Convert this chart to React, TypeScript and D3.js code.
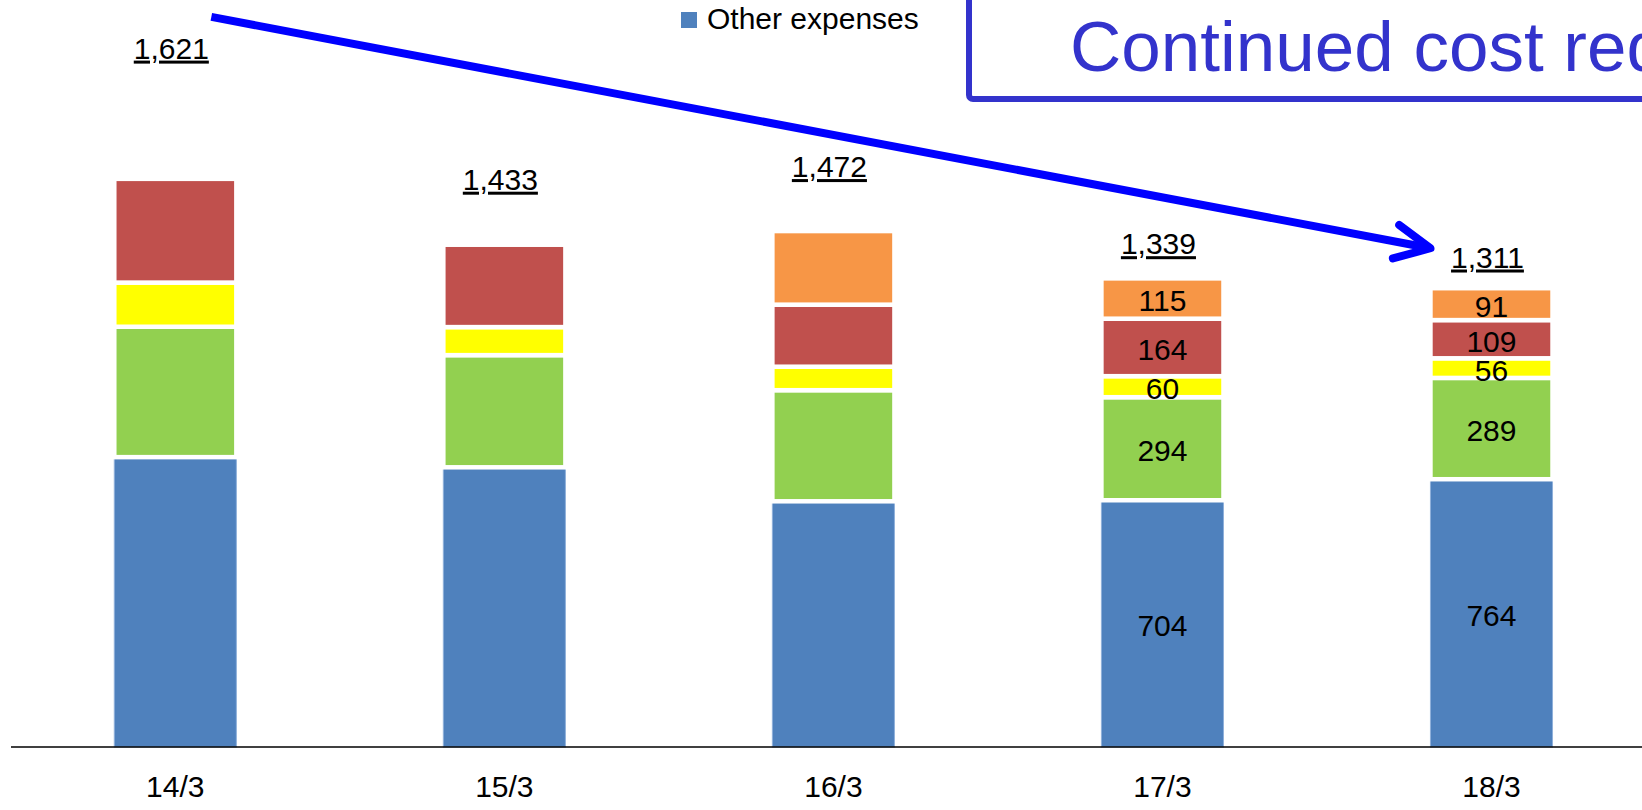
import React from "react";
import * as d3 from "d3";

const categories = ["14/3", "15/3", "16/3", "17/3", "18/3"];
const seriesNames = ["Other expenses", "Series 2", "Series 3", "Series 4", "Series 5"];
const otherExpenses = [827, 798, 701, 704, 764];
const greenSeries = [372, 320, 317, 294, 289];
const yellowSeries = [126, 80, 67, 60, 56];
const redSeries = [296, 235, 177, 164, 109];
const orangeSeries = [0, 0, 210, 115, 91];
const totals = ["1,621", "1,433", "1,472", "1,339", "1,311"];
// vertical level (in chart units) at which each total label sits
const totalLabelLevels = [1964, 1590, 1626, 1406, 1368];
// which categories show segment value labels
const showSegmentLabels = [false, false, false, true, true];
const titleText = "Continued cost reduction";
const arrowFrom = { cat: "14/3", value: 2083 };
const arrowTo = { cat: "18/3", value: 1423 };

const colors = ["#4F81BD", "#92D050", "#FFFF00", "#C0504D", "#F79646"];
const FONT = "'Liberation Sans', Arial, sans-serif";

export default function App() {
  const W = 1642;
  const H = 810;
  const baseY = 747;

  const x = d3
    .scaleBand<string>()
    .domain(categories)
    .range([10.8, 1656])
    .paddingInner(0.629)
    .paddingOuter(0.3145);
  const y = d3.scaleLinear().domain([0, 2000]).range([baseY, 46]);
  const bw = x.bandwidth();

  const seriesValues = [otherExpenses, greenSeries, yellowSeries, redSeries, orangeSeries];
  const rows = categories.map((c, i) => {
    const r: any = { cat: c };
    seriesNames.forEach((s, j) => (r[s] = seriesValues[j][i]));
    return r;
  });
  const stacked = d3.stack<any>().keys(seriesNames)(rows);

  const ax0 = (x(arrowFrom.cat) as number) + bw / 2 + 36;
  const ay0 = y(arrowFrom.value);
  const ax1 = x(arrowTo.cat) as number;
  const ay1 = y(arrowTo.value);
  const dx = ax1 - ax0;
  const dy = ay1 - ay0;
  const len = Math.sqrt(dx * dx + dy * dy);
  const ux = dx / len;
  const uy = dy / len;
  const back = 35;
  const side = 17;
  const b1 = [ax1 - ux * back - uy * side, ay1 - uy * back + ux * side];
  const b2 = [ax1 - ux * back + uy * side, ay1 - uy * back - ux * side];

  return (
    <svg
      width={W}
      height={H}
      style={{ position: "fixed", left: 0, top: 0, background: "#fff" }}
      fontFamily={FONT}
    >
      <rect x={0} y={0} width={W} height={H} fill="#fff" />
      {/* bars */}
      {stacked.map((layer, j) => (
        <g key={layer.key}>
          {layer.map((d, i) => {
            const v = d[1] - d[0];
            if (v <= 0) return null;
            const y0 = y(d[1]);
            const h = y(d[0]) - y(d[1]);
            return (
              <rect
                key={i}
                x={x(categories[i])}
                y={y0}
                width={bw}
                height={h}
                fill={colors[j]}
                stroke={j === 0 ? "#8FB0DA" : "#ffffff"}
                strokeWidth={j === 0 ? 1 : 4.5}
              />
            );
          })}
        </g>
      ))}
      {/* segment labels */}
      {stacked.map((layer, j) =>
        layer.map((d, i) => {
          const v = d[1] - d[0];
          if (!showSegmentLabels[i] || v <= 0) return null;
          return (
            <text
              key={`l${j}-${i}`}
              x={(x(categories[i]) as number) + bw / 2}
              y={(y(d[0]) + y(d[1])) / 2 + 2}
              textAnchor="middle"
              dominantBaseline="central"
              fontSize={30}
              fill="#000"
            >
              {v}
            </text>
          );
        })
      )}
      {/* axis */}
      <line x1={11} x2={W} y1={baseY} y2={baseY} stroke="#000" strokeWidth={1.5} />
      {categories.map((c) => (
        <text
          key={c}
          x={(x(c) as number) + bw / 2}
          y={797}
          textAnchor="middle"
          fontSize={30}
          fill="#000"
        >
          {c}
        </text>
      ))}
      {/* totals */}
      {categories.map((c, i) => (
        <text
          key={`t${c}`}
          x={(x(c) as number) + bw / 2 - 4}
          y={y(totalLabelLevels[i])}
          textAnchor="middle"
          fontSize={30}
          fill="#000"
          style={{ textDecoration: "underline" }}
        >
          {totals[i]}
        </text>
      ))}
      {/* legend */}
      <rect x={681} y={12} width={16} height={16} fill={colors[0]} />
      <text x={707} y={29} fontSize={30} fill="#000">
        {seriesNames[0]}
      </text>
      {/* title box */}
      <rect
        x={969}
        y={-20}
        width={800}
        height={119}
        rx={4}
        fill="none"
        stroke="#3333CC"
        strokeWidth={6}
      />
      <text x={1070} y={71} fontSize={71} fill="#3333CC">
        {titleText}
      </text>
      {/* arrow */}
      <line x1={ax0} y1={ay0} x2={ax1 - ux * 4} y2={ay1 - uy * 4} stroke="#0000FF" strokeWidth={8} />
      <path
        d={`M${b1[0]},${b1[1]} L${ax1},${ay1} L${b2[0]},${b2[1]}`}
        fill="none"
        stroke="#0000FF"
        strokeWidth={8}
        strokeLinejoin="round"
        strokeLinecap="round"
      />
    </svg>
  );
}
